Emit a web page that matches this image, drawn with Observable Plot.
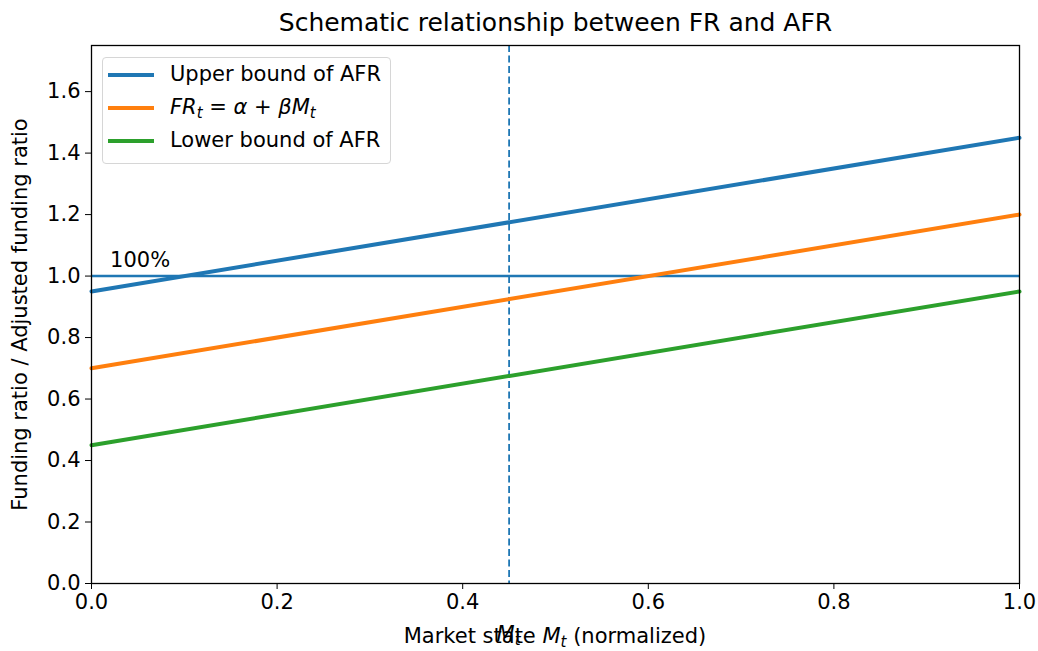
<!DOCTYPE html>
<html>
<head>
<meta charset="utf-8">
<script src="https://cdn.jsdelivr.net/npm/d3@7"></script>
<script src="https://cdn.jsdelivr.net/npm/@observablehq/plot@0.6"></script>
<style>
  html, body { margin: 0; padding: 0; background: #fff; }
  #wrap { position: relative; width: 1038px; height: 651px; font-family: "DejaVu Sans", sans-serif; }
  #legend { position: absolute; left: 102px; top: 57px; width: 289px; height: 107px;
    border: 1.3px solid #d6d6d6; border-radius: 4px; background: rgba(255,255,255,0.8); box-sizing: border-box; }
  .sw { position: absolute; left: 5px; width: 46px; height: 4px; }
  .lab { position: absolute; left: 67px; font-size: 21px; line-height: 24px; height: 24px; color: #000; white-space: nowrap; }
  .lab i { font-style: oblique; }
  .lab sub { font-size: 15px; vertical-align: -4px; line-height: 0; }
</style>
</head>
<body>
<div id="wrap"></div>
<script>
// ---- data ----
const xEnds = [0, 1];
const upperBound = [0.95, 1.45];
const frLine = [0.70, 1.20];
const lowerBound = [0.45, 0.95];
const refLevel = 1.0;
const marketMark = 0.45;
const seriesNames = ["Upper bound of AFR", "FR_t = α + βM_t", "Lower bound of AFR"];
const seriesColors = ["#1f77b4", "#ff7f0e", "#2ca02c"];
const xTicks = [0, 0.2, 0.4, 0.6, 0.8, 1.0];
const yTicks = [0, 0.2, 0.4, 0.6, 0.8, 1.0, 1.2, 1.4, 1.6];
const titleText = "Schematic relationship between FR and AFR";
const xLabelText = "Market state ";
const yLabelText = "Funding ratio / Adjusted funding ratio";

const seriesVals = [upperBound, frLine, lowerBound];
const rows = [];
seriesVals.forEach((vals, i) => xEnds.forEach((x, j) => rows.push({x, y: vals[j], s: seriesNames[i]})));

const fmt = d3.format(".1f");
const plot = Plot.plot({
  width: 1038,
  height: 651,
  marginLeft: 91,
  marginRight: 19,
  marginTop: 45,
  marginBottom: 68,
  style: {fontFamily: "DejaVu Sans, sans-serif", fontSize: "21px", color: "#000", background: "#fff"},
  x: {domain: [0, 1]},
  y: {domain: [0, 1.75]},
  marks: [
    Plot.ruleY([refLevel], {stroke: seriesColors[0], strokeWidth: 2.6}),
    Plot.ruleX([marketMark], {stroke: seriesColors[0], strokeWidth: 1.8, strokeDasharray: "7,3.5"}),
    Plot.line(rows, {x: "x", y: "y", z: "s", stroke: d => seriesColors[seriesNames.indexOf(d.s)], strokeWidth: 4}),
    Plot.text(["100%"], {x: 0.02, y: 1.03, textAnchor: "start", lineAnchor: "bottom", fontSize: 21}),
    Plot.frame({stroke: "#000", strokeWidth: 1.3}),
    Plot.axisX({ticks: xTicks, tickFormat: fmt, tickSize: 6, tickPadding: 5, label: null, fontSize: 21}),
    Plot.axisY({ticks: yTicks, tickFormat: fmt, tickSize: 6, tickPadding: 5, label: null, fontSize: 21}),
    Plot.text([titleText], {frameAnchor: "top", dy: -23, lineAnchor: "middle", fontSize: 25}),
    Plot.text([yLabelText], {frameAnchor: "left", dx: -71, rotate: -90, textAnchor: "middle", fontSize: 21})
  ]
});

const wrap = document.getElementById("wrap");
wrap.appendChild(plot);

// axis label with math (x label and the M_t marker label) as SVG text
const svg = d3.select(plot);
const xs = d3.scaleLinear().domain([0, 1]).range([91, 1019]);
const xl = svg.append("text")
  .attr("x", 555).attr("y", 643).attr("text-anchor", "middle")
  .attr("font-size", 21).attr("fill", "#000");
xl.append("tspan").text(xLabelText);
xl.append("tspan").attr("font-style", "oblique").text("M");
xl.append("tspan").attr("font-style", "oblique").attr("font-size", 15).attr("dy", 4).text("t");
xl.append("tspan").attr("dy", -4).text(" (normalized)");

const ml = svg.append("text")
  .attr("x", xs(marketMark)).attr("y", 641).attr("text-anchor", "middle")
  .attr("font-size", 21).attr("fill", "#000");
ml.append("tspan").attr("font-style", "oblique").text("M");
ml.append("tspan").attr("font-style", "oblique").attr("font-size", 15).attr("dy", 4).text("t");

// legend
const lg = document.createElement("div");
lg.id = "legend";
const labelsHtml = [
  "Upper bound of AFR",
  "<i>FR</i><sub><i>t</i></sub> = <i>α</i> + <i>βM</i><sub><i>t</i></sub>",
  "Lower bound of AFR"
];
const rowCenters = [17, 50, 83];
seriesNames.forEach((n, i) => {
  const sw = document.createElement("div");
  sw.className = "sw";
  sw.style.top = (rowCenters[i] - 2) + "px";
  sw.style.background = seriesColors[i];
  const lb = document.createElement("div");
  lb.className = "lab";
  lb.style.top = (rowCenters[i] - 13) + "px";
  lb.innerHTML = labelsHtml[i];
  lg.appendChild(sw);
  lg.appendChild(lb);
});
wrap.appendChild(lg);
</script>
</body>
</html>
